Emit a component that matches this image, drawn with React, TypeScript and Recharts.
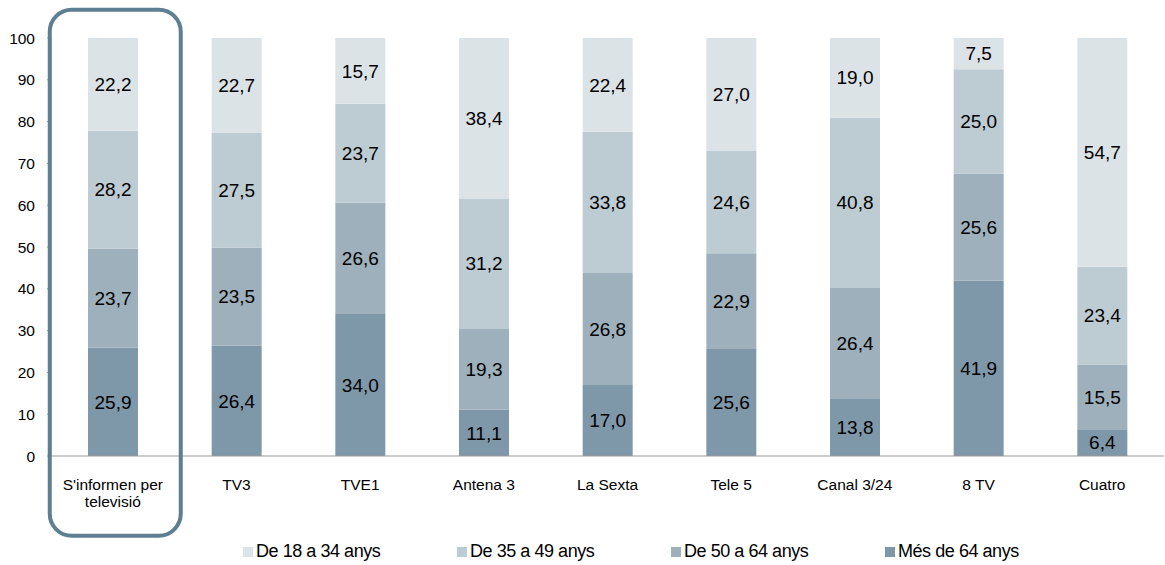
import { BarChart, Bar, XAxis, YAxis, LabelList } from "recharts";

const categories = [
  "S'informen per televisió",
  "TV3",
  "TVE1",
  "Antena 3",
  "La Sexta",
  "Tele 5",
  "Canal 3/24",
  "8 TV",
  "Cuatro",
];

// bottom to top of each stack
const mes64 = [25.9, 26.4, 34.0, 11.1, 17.0, 25.6, 13.8, 41.9, 6.4];
const de50a64 = [23.7, 23.5, 26.6, 19.3, 26.8, 22.9, 26.4, 25.6, 15.5];
const de35a49 = [28.2, 27.5, 23.7, 31.2, 33.8, 24.6, 40.8, 25.0, 23.4];
const de18a34 = [22.2, 22.7, 15.7, 38.4, 22.4, 27.0, 19.0, 7.5, 54.7];

const yTicks = [0, 10, 20, 30, 40, 50, 60, 70, 80, 90, 100];

const series = [
  { key: "de18a34", name: "De 18 a 34 anys", color: "#DCE3E7" },
  { key: "de35a49", name: "De 35 a 49 anys", color: "#BDCBD2" },
  { key: "de50a64", name: "De 50 a 64 anys", color: "#9DB0BC" },
  { key: "mes64", name: "Més de 64 anys", color: "#7E98A9" },
];

const data = categories.map((name, i) => ({
  name,
  idx: i + 0.5,
  mes64: mes64[i],
  de50a64: de50a64[i],
  de35a49: de35a49[i],
  de18a34: de18a34[i],
}));

const FONT = "'Liberation Sans', Arial, sans-serif";

const fmt = (v: any) => Number(v).toFixed(1).replace(".", ",");

const CategoryTick = ({ x, y, payload }: any) => {
  const s: string = payload.value;
  let lines = [s];
  if (s.length > 14) {
    const cut = s.lastIndexOf(" ");
    lines = [s.slice(0, cut), s.slice(cut + 1)];
  }
  return (
    <text x={x} y={y} textAnchor="middle" fontFamily={FONT} fontSize={15.5} fill="#000">
      {lines.map((l, i) => (
        <tspan key={i} x={x} dy={i === 0 ? 26 : 17}>
          {l}
        </tspan>
      ))}
    </text>
  );
};

const stackOrder = ["mes64", "de50a64", "de35a49", "de18a34"];

export default function App() {
  return (
    <div style={{ position: "absolute", left: 0, top: 0, width: 1165, height: 565, background: "#fff" }}>
      <BarChart
        width={1165}
        height={565}
        data={data}
        margin={{ top: 38, right: 1, left: 0, bottom: 0 }}
        barCategoryGap={0}
      >
        <XAxis
          xAxisId="bounds"
          type="number"
          dataKey="idx"
          domain={[0, 9]}
          ticks={[0, 1, 2, 3, 4, 5, 6, 7, 8, 9]}
          height={0}
          axisLine={false}
          tick={false}
          tickLine={{ stroke: "#999" }}
          tickSize={4}
        />
        <XAxis
          dataKey="name"
          height={109}
          interval={0}
          tickLine={false}
          axisLine={{ stroke: "#999" }}
          tick={<CategoryTick />}
        />
        <YAxis
          width={51}
          domain={[0, 100]}
          ticks={yTicks}
          allowDataOverflow
          axisLine={{ stroke: "#999" }}
          tickLine={{ stroke: "#999" }}
          tickSize={4}
          tickMargin={12}
          tick={{ fontFamily: FONT, fontSize: 15.5, fill: "#000" }}
        />
        {stackOrder.map((k) => {
          const s = series.find((x) => x.key === k)!;
          return (
            <Bar key={k} dataKey={k} name={s.name} stackId="a" fill={s.color} barSize={50} isAnimationActive={false}>
              <LabelList
                dataKey={k}
                position="center"
                formatter={fmt}
                style={{ fontFamily: FONT, fontSize: 19, fill: "#000" }}
              />
            </Bar>
          );
        })}
      </BarChart>

      <div
        style={{
          position: "absolute",
          left: 51.5 - 2,
          top: 12 - 2,
          width: 179 - 51.5,
          height: 534 - 12,
          border: "4.5px solid #5E7F92",
          borderRadius: 24,
          boxSizing: "content-box",
          transform: "translate(-2.25px, -2.25px)",
          pointerEvents: "none",
        }}
      />

      <div
        style={{
          position: "absolute",
          left: 243,
          top: 541,
          display: "flex",
          fontFamily: FONT,
          fontSize: 18,
          color: "#000",
        }}
      >
        {series.map((s) => (
          <div key={s.key} style={{ width: 214, display: "flex", alignItems: "center" }}>
            <span style={{ width: 10, height: 10, background: s.color, marginRight: 3, display: "inline-block" }} />
            <span style={{ letterSpacing: -0.45 }}>{s.name}</span>
          </div>
        ))}
      </div>
    </div>
  );
}
